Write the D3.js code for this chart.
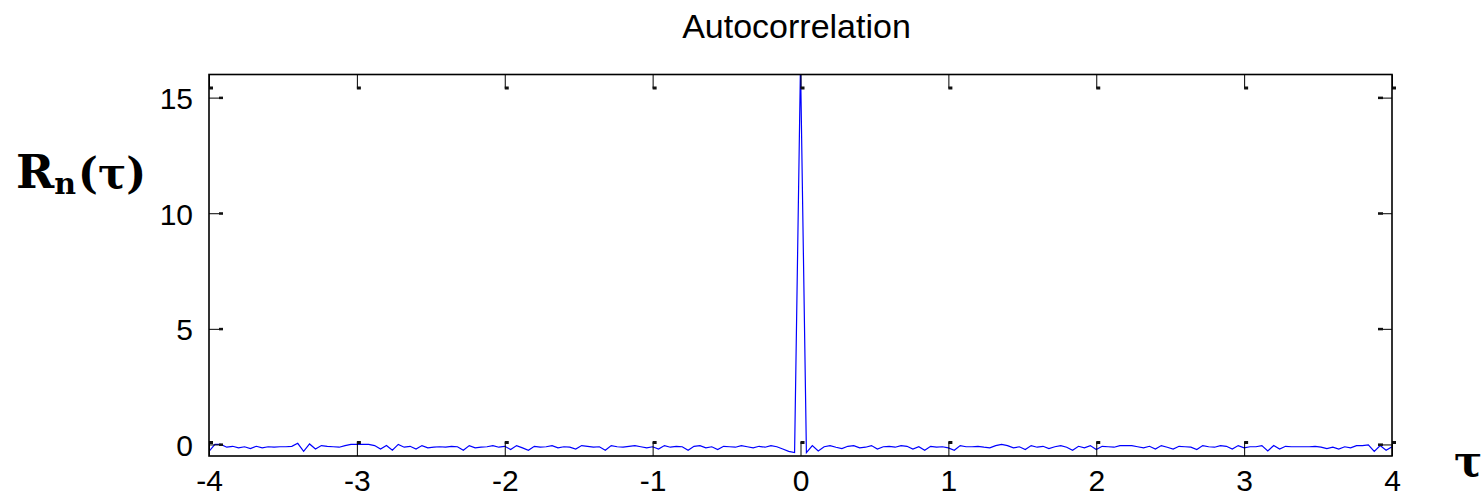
<!DOCTYPE html>
<html>
<head>
<meta charset="utf-8">
<script src="https://cdn.jsdelivr.net/npm/d3@7"></script>
<style>
  html, body { margin: 0; padding: 0; background: #fff; }
  svg { display: block; }
</style>
</head>
<body>
<svg id="chart" width="1482" height="497"></svg>
<script>
// ---- data ----
const title = "Autocorrelation";
const xStart = -4;
const xStep = 0.04;
const rValues = [
  -0.3, 0.0, 0.0, -0.12, -0.08, -0.15, -0.1, -0.18, -0.08, -0.15,
  -0.1, -0.12, -0.1, -0.1, -0.08, 0.05, -0.3, 0.02, -0.2, -0.05,
  -0.08, -0.1, -0.12, -0.05, 0.0, 0.0, 0.0, 0.0, -0.05, -0.2,
  -0.05, -0.25, 0.0, -0.12, -0.08, -0.2, -0.05, -0.15, -0.12, -0.1,
  -0.12, -0.08, -0.1, -0.25, -0.05, -0.15, -0.12, -0.1, -0.05, -0.12,
  -0.08, -0.22, -0.05, -0.15, -0.25, -0.08, -0.12, -0.1, -0.05, -0.15,
  -0.1, -0.12, -0.2, -0.05, -0.08, -0.12, -0.1, -0.25, -0.05, -0.1,
  -0.12, -0.08, -0.05, -0.1, -0.15, -0.1, -0.2, -0.05, -0.12, -0.08,
  -0.1, -0.25, -0.08, -0.05, -0.15, -0.1, -0.22, -0.08, -0.1, -0.12,
  -0.05, -0.1, -0.15, -0.08, -0.12, -0.05, -0.1, -0.2, -0.3, -0.35,
  16.5,
  -0.35, -0.05, -0.28, -0.1, -0.05, -0.12, -0.18, -0.08, -0.05, -0.15,
  -0.12, -0.05, -0.2, -0.1, -0.08, -0.12, -0.05, -0.08, -0.2, -0.1,
  -0.25, -0.08, -0.12, -0.1, -0.15, -0.25, -0.05, -0.1, -0.1, -0.08,
  -0.12, -0.15, -0.05, 0.0, -0.05, -0.15, -0.1, -0.22, -0.05, -0.12,
  -0.08, -0.18, -0.1, -0.05, -0.12, -0.25, -0.08, -0.15, -0.05, -0.22,
  -0.08, -0.1, -0.12, -0.05, -0.05, -0.05, -0.1, -0.15, -0.08, -0.2,
  -0.05, -0.12, -0.2, -0.08, -0.1, -0.12, -0.22, -0.05, -0.1, -0.12,
  -0.05, -0.08, -0.2, -0.05, -0.15, -0.1, -0.1, -0.05, -0.28, -0.05,
  -0.2, -0.08, -0.1, -0.1, -0.1, -0.1, -0.08, -0.12, -0.18, -0.12,
  -0.2, -0.1, -0.15, -0.05, -0.05, -0.02, -0.3, -0.05, -0.25, -0.1
];
const xTicks = [-4, -3, -2, -1, 0, 1, 2, 3, 4];
const yTicks = [0, 5, 10, 15];
const xDomain = [-4, 4];
const yDomain = [-0.5, 16];

// ---- layout ----
const L = 209, R = 1392, T = 74.5, B = 456;
const svg = d3.select("#chart");
const x = d3.scaleLinear().domain(xDomain).range([L, R]);
const y = d3.scaleLinear().domain(yDomain).range([B, T]);
const data = rValues.map((v, i) => ({ t: xStart + i * xStep, v }));
const tickLen = 14;
const sans = "'Liberation Sans', Arial, Helvetica, sans-serif";
const serif = "'DejaVu Serif', 'Liberation Serif', serif";

svg.append("defs").append("clipPath").attr("id", "clip")
  .append("rect").attr("x", L).attr("y", T).attr("width", R - L).attr("height", B - T);

// data line
svg.append("path")
  .datum(data)
  .attr("clip-path", "url(#clip)")
  .attr("fill", "none")
  .attr("stroke", "#0000ff")
  .attr("stroke-width", 1.2)
  .attr("d", d3.line().x(d => x(d.t)).y(d => y(d.v)));

// axes via d3 axis generators (inward ticks)
const fmt = d => String(d);
const xb = svg.append("g").attr("transform", `translate(0,${B})`)
  .call(d3.axisBottom(x).tickValues(xTicks).tickFormat(fmt).tickSizeInner(-tickLen).tickSizeOuter(0).tickPadding(14));
const xt = svg.append("g").attr("transform", `translate(0,${T})`)
  .call(d3.axisTop(x).tickValues(xTicks).tickFormat("").tickSizeInner(-tickLen).tickSizeOuter(0));
const yl = svg.append("g").attr("transform", `translate(${L},0)`)
  .call(d3.axisLeft(y).tickValues(yTicks).tickFormat(fmt).tickSizeInner(-tickLen).tickSizeOuter(0).tickPadding(16));
const yr = svg.append("g").attr("transform", `translate(${R},0)`)
  .call(d3.axisRight(y).tickValues(yTicks).tickFormat("").tickSizeInner(-tickLen).tickSizeOuter(0));

[xb, xt, yl, yr].forEach(g => {
  g.select(".domain").remove();
  g.selectAll(".tick line").attr("stroke", "#000").attr("stroke-width", 1);
  g.selectAll("text").attr("fill", "#000").style("font-family", sans).style("font-size", "30px");
});
xb.selectAll("text").attr("dy", "0.71em");
yl.selectAll("text").attr("dy", "0.36em");

// small dark blobs at tick ends (rendering artefacts of the original)
xTicks.forEach(t => {
  svg.append("rect").attr("x", x(t)).attr("y", T + tickLen - 2).attr("width", 4).attr("height", 3).attr("fill", "#111");
  svg.append("rect").attr("x", x(t)).attr("y", B - tickLen - 1).attr("width", 4).attr("height", 3).attr("fill", "#111");
});
yTicks.forEach(t => {
  svg.append("rect").attr("x", L + tickLen - 4).attr("y", y(t) - 1).attr("width", 4).attr("height", 2.5).attr("fill", "#111");
  svg.append("rect").attr("x", R - tickLen).attr("y", y(t) - 1).attr("width", 5).attr("height", 2.5).attr("fill", "#111");
});

// box
svg.append("rect").attr("x", L).attr("y", T).attr("width", R - L).attr("height", B - T)
  .attr("fill", "none").attr("stroke", "#000").attr("stroke-width", 1.6);

// title
svg.append("text").attr("x", (L + R) / 2 - 4).attr("y", 38).attr("text-anchor", "middle")
  .style("font-family", sans).style("font-size", "34px").attr("fill", "#000").text(title);

// y label R_n(τ)
const yLab = svg.append("text").attr("x", 16).attr("y", 188)
  .style("font-family", serif).style("font-weight", "bold").attr("fill", "#000");
yLab.append("tspan").style("font-size", "46px").text("R");
yLab.append("tspan").style("font-size", "30px").attr("dy", 6).text("n");
yLab.append("tspan").style("font-size", "42px").attr("dy", -6).attr("dx", 2).text("(τ)");

// x label τ
svg.append("text").attr("x", 1454).attr("y", 476)
  .style("font-family", serif).style("font-weight", "bold").style("font-size", "42px")
  .attr("fill", "#000").text("τ");
</script>
</body>
</html>
